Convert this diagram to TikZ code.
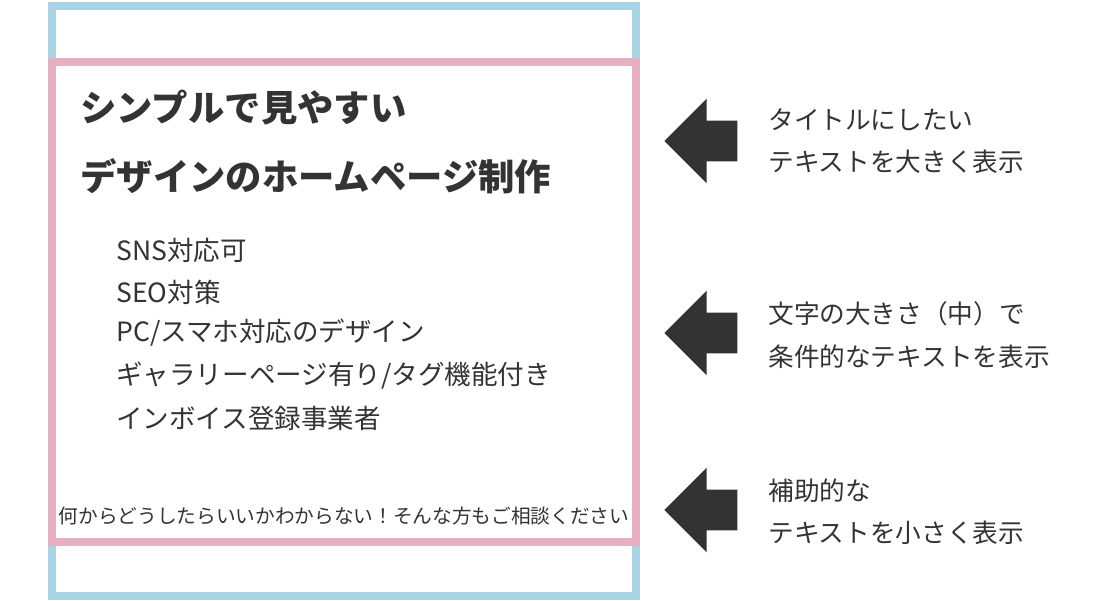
\documentclass[tikz,border=0pt]{standalone}
\usepackage{fontspec}
\setmainfont{Noto Sans CJK JP}
\usetikzlibrary{shapes.arrows,positioning}
\definecolor{frameblue}{HTML}{A8D4E6}
\definecolor{framepink}{HTML}{E8AFC2}
\definecolor{ink}{HTML}{333333}

\begin{document}
\begin{tikzpicture}[x=0.02cm,y=-0.02cm,
	titletext/.style={anchor=west,font=\fontsize{20.7}{24}\selectfont\bfseries,text=ink,inner sep=0},
	itemtext/.style={anchor=west,font=\fontsize{15.1}{18}\selectfont,text=ink,inner sep=0},
	notetext/.style={anchor=west,align=left,font=\fontsize{14.6}{24}\selectfont,text=ink,inner sep=0},
	pointer/.style={single arrow,fill=ink,draw=none,shape border rotate=180,
	  minimum height=1.46cm,inner xsep=0pt,inner ysep=0.4cm,single arrow head extend=0.44cm}
]
\useasboundingbox (0,0) rectangle (1100,600);

% frames
\draw[frameblue,line width=4.5pt] (52,6) rectangle (636,596);
\draw[framepink,fill=white,line width=4.5pt] (52,62) rectangle (636,542);

% title
\node (title1) [titletext] at (80,108) {シンプルで見やすい};
\node (title2) [titletext] at (80,176) {デザインのホームページ制作};

% items
\node (item1) [itemtext] at (116,250) {SNS対応可};
\node (item2) [itemtext] at (116,292) {SEO対策};
\node (item3) [itemtext] at (116,333) {PC/スマホ対応のデザイン};
\node (item4) [itemtext] at (116,376) {ギャラリーページ有り/タグ機能付き};
\node (item5) [itemtext] at (116,418) {インボイス登録事業者};

% footer
\node (foot) [font=\fontsize{11.2}{13}\selectfont,text=ink,inner sep=0] at (344,516) {何からどうしたらいいかわからない！そんな方もご相談ください};

% arrows and notes
\node (arrow1) [pointer] at (711,141) {};
\node (arrow2) [pointer] at (711,333) {};
\node (arrow3) [pointer] at (711,510) {};
\node (note1) [notetext] at (768,141) {タイトルにしたい\\テキストを大きく表示};
\node (note2) [notetext] at (768,335) {文字の大きさ（中）で\\条件的なテキストを表示};
\node (note3) [notetext] at (768,512) {補助的な\\テキストを小さく表示};

\end{tikzpicture}
\end{document}
